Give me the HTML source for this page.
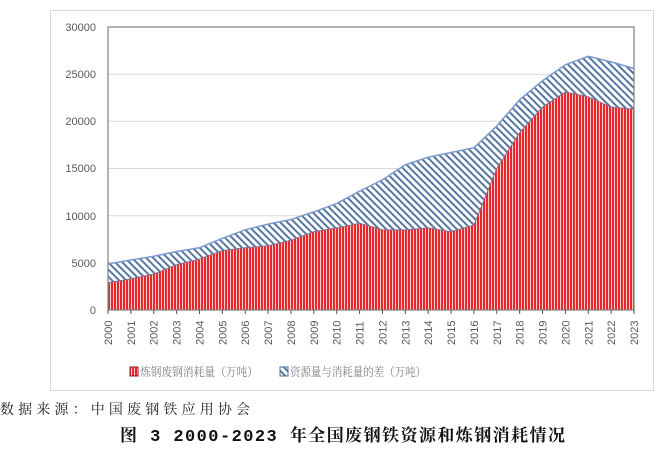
<!DOCTYPE html>
<html><head><meta charset="utf-8"><style>
body{margin:0;background:#fff;width:662px;height:446px;overflow:hidden;font-family:"Liberation Sans","Noto Sans CJK SC",sans-serif}
</style></head><body>
<svg width="662" height="446" viewBox="0 0 662 446" xmlns="http://www.w3.org/2000/svg">
<defs>
<pattern id="red" width="3" height="10" patternUnits="userSpaceOnUse">
<rect width="3" height="10" fill="#e8262c"/><rect x="2" width="1" height="10" fill="#f8d0d0"/>
</pattern>
<pattern id="blue" width="5" height="5" patternUnits="userSpaceOnUse" patternTransform="rotate(-45)">
<rect width="5" height="5" fill="#fff"/><rect width="2" height="5" fill="#56779f"/>
</pattern>
</defs>
<rect x="50.5" y="10.5" width="603" height="380" fill="#fff" stroke="#d9d9d9"/>
<g stroke="#d9d9d9" stroke-width="1">
<line x1="108" x2="634" y1="262.8" y2="262.8"/><line x1="108" x2="634" y1="215.7" y2="215.7"/>
<line x1="108" x2="634" y1="168.5" y2="168.5"/><line x1="108" x2="634" y1="121.3" y2="121.3"/>
<line x1="108" x2="634" y1="74.2" y2="74.2"/>
</g>
<g id="areas"></g>
<rect x="108" y="27" width="526" height="283" fill="none" stroke="#808080" stroke-width="1.2"/>
<g font-size="11" fill="#595959" text-anchor="end">
<text x="96" y="314">0</text><text x="96" y="267">5000</text><text x="96" y="220">10000</text>
<text x="96" y="172">15000</text><text x="96" y="125">20000</text><text x="96" y="78">25000</text><text x="96" y="31">30000</text>
</g>
<g id="xl" font-size="11" fill="#595959"></g>
<rect x="130" y="367" width="8" height="9" fill="url(#red)" stroke="#8b1a1a"/>
<text x="140" y="376" font-size="12" fill="#808080" textLength="118" lengthAdjust="spacingAndGlyphs" font-family="Liberation Serif,Noto Serif CJK SC,serif">炼钢废钢消耗量（万吨）</text>
<rect x="280" y="367" width="8" height="9" fill="url(#blue)" stroke="#4f6f98"/>
<text x="290" y="376" font-size="12" fill="#808080" textLength="136" lengthAdjust="spacingAndGlyphs" font-family="Liberation Serif,Noto Serif CJK SC,serif">资源量与消耗量的差（万吨）</text>
<text x="0" y="414" font-size="14" fill="#222" textLength="250" lengthAdjust="spacing" font-family="Liberation Serif,Noto Serif CJK SC,serif">数据来源：中国废钢铁应用协会</text>
<text x="120" y="441" font-size="17" font-weight="bold" fill="#111" textLength="445" lengthAdjust="spacing" font-family="Liberation Mono,Noto Serif CJK SC,serif">图 3 2000-2023 年全国废钢铁资源和炼钢消耗情况</text>
</svg>
<script>
var red=[2900,3300,3800,4800,5400,6300,6600,6800,7400,8300,8700,9200,8500,8500,8700,8300,9000,15000,18800,21500,23100,22600,21500,21300];
var tot=[4900,5300,5700,6200,6600,7600,8500,9100,9600,10400,11300,12600,13800,15400,16200,16700,17200,19500,22300,24300,26000,26900,26300,25600];
function X(i){return 108+i*526/23}function Y(v){return 310-v*283/30000}
var r=[],t=[];for(var i=0;i<24;i++){r.push(X(i)+','+Y(red[i]));t.push(X(i)+','+Y(tot[i]));}
var ns='http://www.w3.org/2000/svg',g=document.getElementById('areas');
function add(tag,a){var e=document.createElementNS(ns,tag);for(var k in a)e.setAttribute(k,a[k]);g.appendChild(e);return e}
add('polygon',{points:t.join(' ')+' '+r.slice().reverse().join(' '),fill:'url(#blue)'});
add('polyline',{points:t.join(' '),fill:'none',stroke:'#7a9bd0','stroke-width':1.5});
add('polygon',{points:'108,310 '+r.join(' ')+' 634,310',fill:'url(#red)'});
add('polyline',{points:r.join(' '),fill:'none',stroke:'#8b6b8b','stroke-width':1});
var xl=document.getElementById('xl');
for(var i=0;i<24;i++){var x=X(i);
var l=document.createElementNS(ns,'line');l.setAttribute('x1',x);l.setAttribute('x2',x);l.setAttribute('y1',310);l.setAttribute('y2',314);l.setAttribute('stroke','#555');xl.appendChild(l);
var tx=document.createElementNS(ns,'text');tx.setAttribute('transform','translate('+(x+4)+',345) rotate(-90)');tx.textContent=2000+i;xl.appendChild(tx);}
</script>
</body></html>
